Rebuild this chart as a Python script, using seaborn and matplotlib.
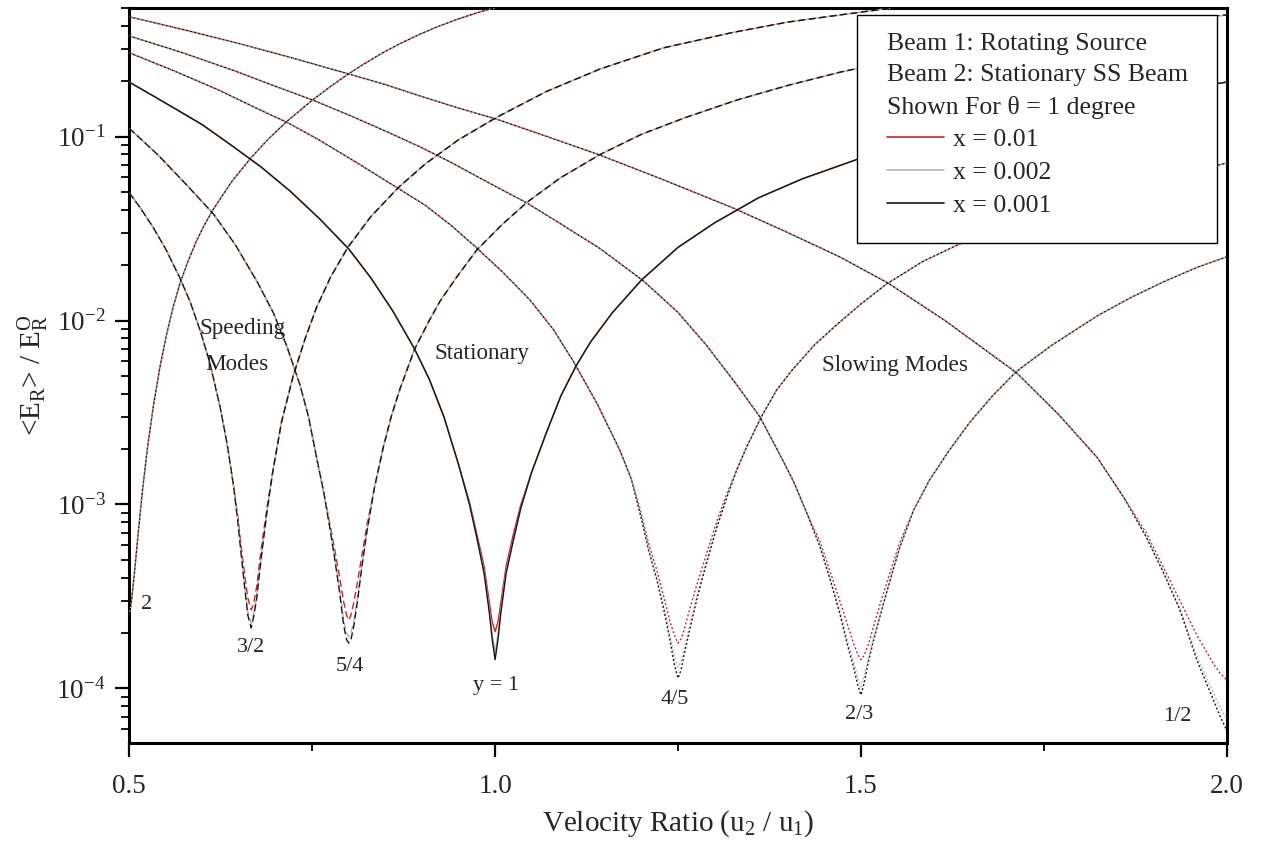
import matplotlib
matplotlib.use("Agg")
import matplotlib.pyplot as plt
from matplotlib.lines import Line2D
from matplotlib.patches import Rectangle
from matplotlib.ticker import LogLocator, NullFormatter, FixedLocator
import seaborn as sns

# ---------------- data ----------------
# u = velocity ratio u2/u1 ; values = <E_R>/E_R^O for x = 0.001 (black), 0.002 (gray), 0.01 (red)

# mode "2" (dotted) : dip at u = 0.5 (only rising branch visible)
M2_U = [0.500, 0.503, 0.507, 0.512, 0.518, 0.525, 0.533, 0.542, 0.551, 0.560,
        0.569, 0.580, 0.592, 0.603, 0.615, 0.640, 0.667, 0.690, 0.715, 0.751,
        0.775, 0.798, 0.820, 0.847, 0.870, 0.897, 0.920, 0.949, 0.975, 1.003]
M2_E = [2.5e-4, 2.98e-4, 4.23e-4, 6.86e-4, 1.19e-3, 2.06e-3, 3.45e-3, 5.62e-3, 8.42e-3, 0.01186,
        0.0158, 0.0209, 0.0272, 0.0333, 0.0404, 0.057, 0.0773, 0.097, 0.1208, 0.1589,
        0.1875, 0.2174, 0.2477, 0.2868, 0.3205, 0.3606, 0.3945, 0.436, 0.4713, 0.5075]

# mode "3/2" (dashed) : dip at u = 2/3
M32_U = [0.500, 0.515, 0.532, 0.550, 0.569, 0.583, 0.597, 0.610, 0.624, 0.634,
         0.642, 0.648, 0.653, 0.658, 0.662, 0.6667, 0.670, 0.674, 0.680, 0.688,
         0.696, 0.708, 0.724, 0.740, 0.756, 0.775, 0.799, 0.830, 0.868, 0.904,
         0.950, 1.003, 1.070, 1.143, 1.230, 1.325, 1.400, 1.471, 1.540]
M32_X001 = [0.0495, 0.041, 0.0324, 0.0244, 0.0171, 0.0127, 8.8e-3, 5.9e-3, 3.4e-3, 2.1e-3,
            1.30e-3, 8.3e-4, 5.3e-4, 3.45e-4, 2.5e-4, 2.13e-4, 2.45e-4, 3.05e-4, 5.0e-4, 9.0e-4,
            1.5e-3, 2.8e-3, 5.0e-3, 7.9e-3, 0.0118, 0.0172, 0.0251, 0.0367, 0.0530, 0.0708,
            0.0962, 0.128, 0.176, 0.233, 0.304, 0.369, 0.420, 0.459, 0.500]
M32_X002 = [0.0495, 0.041, 0.0324, 0.0244, 0.0171, 0.0127, 8.8e-3, 5.9e-3, 3.4e-3, 2.1e-3,
            1.30e-3, 8.3e-4, 5.4e-4, 3.55e-4, 2.6e-4, 2.26e-4, 2.55e-4, 3.15e-4, 5.1e-4, 9.0e-4,
            1.5e-3, 2.8e-3, 5.0e-3, 7.9e-3, 0.0118, 0.0172, 0.0251, 0.0367, 0.0530, 0.0708,
            0.0962, 0.128, 0.176, 0.233, 0.304, 0.369, 0.420, 0.459, 0.500]
M32_X01 = [0.0495, 0.041, 0.0324, 0.0244, 0.0171, 0.0127, 8.8e-3, 5.9e-3, 3.4e-3, 2.1e-3,
           1.30e-3, 8.8e-4, 5.9e-4, 4.05e-4, 3.1e-4, 2.67e-4, 2.9e-4, 3.55e-4, 5.6e-4, 9.5e-4,
           1.5e-3, 2.8e-3, 5.0e-3, 7.9e-3, 0.0118, 0.0172, 0.0251, 0.0367, 0.0530, 0.0708,
           0.0962, 0.128, 0.176, 0.233, 0.304, 0.369, 0.420, 0.459, 0.500]

# mode "5/4" (dashed) : dip at u = 0.8
M54_U = [0.50, 0.54, 0.58, 0.615, 0.645, 0.675, 0.697, 0.715, 0.733, 0.745,
         0.756, 0.766, 0.774, 0.781, 0.788, 0.793, 0.797, 0.800, 0.803, 0.807,
         0.812, 0.818, 0.8245, 0.835, 0.847, 0.858, 0.870, 0.890, 0.910, 0.925,
         0.950, 0.975, 1.010, 1.044, 1.090, 1.143, 1.200, 1.260, 1.330, 1.400,
         1.471, 1.550, 1.622, 1.690, 1.759, 1.830, 1.895, 1.950, 2.000]
M54_X001 = [0.111, 0.079, 0.0538, 0.0380, 0.0258, 0.0162, 0.0110, 7.3e-3, 4.5e-3, 3.0e-3,
            1.8e-3, 1.15e-3, 7.5e-4, 5.0e-4, 3.2e-4, 2.2e-4, 1.84e-4, 1.76e-4, 1.84e-4, 2.2e-4,
            3.0e-4, 4.6e-4, 7.0e-4, 1.23e-3, 2.03e-3, 3.0e-3, 4.25e-3, 7.0e-3, 1.0e-2, 0.0128,
            0.0178, 0.0242, 0.0334, 0.0441, 0.0600, 0.0798, 0.103, 0.127, 0.158, 0.190,
            0.224, 0.262, 0.297, 0.332, 0.365, 0.394, 0.418, 0.438, 0.459]
M54_X002 = [0.111, 0.079, 0.0538, 0.0380, 0.0258, 0.0162, 0.0110, 7.3e-3, 4.5e-3, 3.0e-3,
            1.8e-3, 1.15e-3, 7.5e-4, 5.1e-4, 3.35e-4, 2.35e-4, 2.0e-4, 1.9e-4, 2.0e-4, 2.35e-4,
            3.1e-4, 4.7e-4, 7.0e-4, 1.23e-3, 2.03e-3, 3.0e-3, 4.25e-3, 7.0e-3, 1.0e-2, 0.0128,
            0.0178, 0.0242, 0.0334, 0.0441, 0.0600, 0.0798, 0.103, 0.127, 0.158, 0.190,
            0.224, 0.262, 0.297, 0.332, 0.365, 0.394, 0.418, 0.438, 0.459]
M54_X01 = [0.111, 0.079, 0.0538, 0.0380, 0.0258, 0.0162, 0.0110, 7.3e-3, 4.5e-3, 3.0e-3,
           1.8e-3, 1.15e-3, 7.9e-4, 5.6e-4, 3.9e-4, 2.95e-4, 2.5e-4, 2.35e-4, 2.5e-4, 2.95e-4,
           3.8e-4, 5.3e-4, 7.6e-4, 1.23e-3, 2.03e-3, 3.0e-3, 4.25e-3, 7.0e-3, 1.0e-2, 0.0128,
           0.0178, 0.0242, 0.0334, 0.0441, 0.0600, 0.0798, 0.103, 0.127, 0.158, 0.190,
           0.224, 0.262, 0.297, 0.332, 0.365, 0.394, 0.418, 0.438, 0.459]

# stationary mode "y = 1" (solid) : dip at u = 1
ST_U = [0.50, 0.53, 0.56, 0.60, 0.64, 0.68, 0.72, 0.76, 0.80, 0.83,
        0.86, 0.89, 0.91, 0.93, 0.95, 0.965, 0.975, 0.985, 0.992, 0.996,
        1.000, 1.004, 1.008, 1.015, 1.025, 1.035, 1.05, 1.07, 1.09, 1.11,
        1.13, 1.16, 1.20, 1.25, 1.30, 1.36, 1.42, 1.50, 1.60, 1.70,
        1.80, 1.90, 2.00]
ST_X001 = [0.198, 0.169, 0.144, 0.116, 0.0895, 0.0685, 0.0505, 0.0358, 0.0245, 0.0171,
           0.0113, 7.0e-3, 4.8e-3, 3.0e-3, 1.65e-3, 1.0e-3, 6.6e-4, 4.2e-4, 2.6e-4, 1.85e-4,
           1.43e-4, 1.85e-4, 2.6e-4, 4.2e-4, 6.4e-4, 9.5e-4, 1.5e-3, 2.45e-3, 3.9e-3, 5.6e-3,
           7.6e-3, 0.0110, 0.0166, 0.0250, 0.0340, 0.0465, 0.0590, 0.0765, 0.0985, 0.123,
           0.148, 0.173, 0.198]
ST_X002 = [0.198, 0.169, 0.144, 0.116, 0.0895, 0.0685, 0.0505, 0.0358, 0.0245, 0.0171,
           0.0113, 7.0e-3, 4.8e-3, 3.0e-3, 1.65e-3, 1.0e-3, 6.6e-4, 4.3e-4, 2.7e-4, 1.98e-4,
           1.56e-4, 1.98e-4, 2.7e-4, 4.3e-4, 6.4e-4, 9.5e-4, 1.5e-3, 2.45e-3, 3.9e-3, 5.6e-3,
           7.6e-3, 0.0110, 0.0166, 0.0250, 0.0340, 0.0465, 0.0590, 0.0765, 0.0985, 0.123,
           0.148, 0.173, 0.198]
ST_X01 = [0.198, 0.169, 0.144, 0.116, 0.0895, 0.0685, 0.0505, 0.0358, 0.0245, 0.0171,
          0.0113, 7.0e-3, 4.8e-3, 3.0e-3, 1.65e-3, 1.03e-3, 6.9e-4, 4.6e-4, 2.95e-4, 2.3e-4,
          2.03e-4, 2.3e-4, 2.95e-4, 4.6e-4, 6.9e-4, 9.9e-4, 1.5e-3, 2.45e-3, 3.9e-3, 5.6e-3,
          7.6e-3, 0.0110, 0.0166, 0.0250, 0.0340, 0.0465, 0.0590, 0.0765, 0.0985, 0.123,
          0.148, 0.173, 0.198]

# mode "4/5" (dotted) : dip at u = 1.25
M45_U = [0.50, 0.56, 0.62, 0.68, 0.715, 0.76, 0.81, 0.868, 0.904, 0.94,
         0.975, 1.01, 1.048, 1.08, 1.107, 1.14, 1.171, 1.186, 1.198, 1.21,
         1.221, 1.231, 1.239, 1.245, 1.25, 1.254, 1.258, 1.266, 1.277, 1.289,
         1.303, 1.317, 1.33, 1.344, 1.364, 1.385, 1.408, 1.437, 1.467, 1.50,
         1.535, 1.585, 1.636, 1.70, 1.759, 1.82, 1.882, 1.94, 2.00]
M45_X001 = [0.286, 0.229, 0.181, 0.139, 0.120, 0.0957, 0.0726, 0.0522, 0.0425, 0.0329,
            0.0248, 0.0184, 0.0129, 8.9e-3, 6.0e-3, 3.5e-3, 1.95e-3, 1.38e-3, 9.0e-4, 5.6e-4,
            3.9e-4, 2.63e-4, 1.83e-4, 1.35e-4, 1.135e-4, 1.25e-4, 1.5e-4, 2.08e-4, 3.2e-4, 4.8e-4,
            7.5e-4, 1.10e-3, 1.53e-3, 2.06e-3, 3.0e-3, 4.2e-3, 5.5e-3, 7.4e-3, 9.5e-3, 0.0123,
            0.0158, 0.0210, 0.0262, 0.0330, 0.0397, 0.0468, 0.0545, 0.0625, 0.0719]
M45_X002 = [0.286, 0.229, 0.181, 0.139, 0.120, 0.0957, 0.0726, 0.0522, 0.0425, 0.0329,
            0.0248, 0.0184, 0.0129, 8.9e-3, 6.0e-3, 3.5e-3, 1.95e-3, 1.38e-3, 9.0e-4, 5.6e-4,
            4.0e-4, 2.75e-4, 1.95e-4, 1.5e-4, 1.3e-4, 1.4e-4, 1.62e-4, 2.2e-4, 3.3e-4, 4.9e-4,
            7.5e-4, 1.10e-3, 1.53e-3, 2.06e-3, 3.0e-3, 4.2e-3, 5.5e-3, 7.4e-3, 9.5e-3, 0.0123,
            0.0158, 0.0210, 0.0262, 0.0330, 0.0397, 0.0468, 0.0545, 0.0625, 0.0719]
M45_X01 = [0.286, 0.229, 0.181, 0.139, 0.120, 0.0957, 0.0726, 0.0522, 0.0425, 0.0329,
           0.0248, 0.0184, 0.0129, 8.9e-3, 6.0e-3, 3.5e-3, 1.95e-3, 1.38e-3, 9.5e-4, 6.1e-4,
           4.4e-4, 3.1e-4, 2.3e-4, 1.95e-4, 1.76e-4, 1.85e-4, 2.05e-4, 2.7e-4, 3.8e-4, 5.4e-4,
           8.1e-4, 1.15e-3, 1.53e-3, 2.06e-3, 3.0e-3, 4.2e-3, 5.5e-3, 7.4e-3, 9.5e-3, 0.0123,
           0.0158, 0.0210, 0.0262, 0.0330, 0.0397, 0.0468, 0.0545, 0.0625, 0.0719]

# mode "2/3" (dotted) : dip at u = 1.5
M23_U = [0.50, 0.57, 0.64, 0.70, 0.751, 0.80, 0.85, 0.897, 0.94, 0.99,
         1.044, 1.09, 1.143, 1.203, 1.25, 1.289, 1.33, 1.362, 1.39, 1.408,
         1.428, 1.444, 1.458, 1.471, 1.482, 1.490, 1.496, 1.500, 1.504, 1.510,
         1.517, 1.526, 1.535, 1.544, 1.553, 1.572, 1.594, 1.62, 1.649, 1.68,
         1.713, 1.76, 1.823, 1.87, 1.913, 1.96, 2.00]
M23_X001 = [0.353, 0.2886, 0.2311, 0.1878, 0.158, 0.1312, 0.1073, 0.0882, 0.0724, 0.0565,
            0.0435, 0.0335, 0.0247, 0.0164, 0.01107, 7.33e-3, 4.49e-3, 2.99e-3, 1.84e-3, 1.33e-3,
            8.6e-4, 5.9e-4, 3.9e-4, 2.56e-4, 1.7e-4, 1.3e-4, 1.03e-4, 9.2e-5, 1.05e-4, 1.38e-4,
            1.8e-4, 2.45e-4, 3.3e-4, 4.4e-4, 5.8e-4, 9.3e-4, 1.36e-3, 1.95e-3, 2.8e-3, 3.9e-3,
            5.3e-3, 7.3e-3, 0.0106, 0.0134, 0.0162, 0.0195, 0.0222]
M23_X002 = [0.353, 0.2886, 0.2311, 0.1878, 0.158, 0.1312, 0.1073, 0.0882, 0.0724, 0.0565,
            0.0435, 0.0335, 0.0247, 0.0164, 0.01107, 7.33e-3, 4.49e-3, 2.99e-3, 1.84e-3, 1.33e-3,
            8.6e-4, 5.9e-4, 3.9e-4, 2.65e-4, 1.8e-4, 1.4e-4, 1.13e-4, 1.02e-4, 1.15e-4, 1.45e-4,
            1.87e-4, 2.5e-4, 3.3e-4, 4.4e-4, 5.8e-4, 9.3e-4, 1.36e-3, 1.95e-3, 2.8e-3, 3.9e-3,
            5.3e-3, 7.3e-3, 0.0106, 0.0134, 0.0162, 0.0195, 0.0222]
M23_X01 = [0.353, 0.2886, 0.2311, 0.1878, 0.158, 0.1312, 0.1073, 0.0882, 0.0724, 0.0565,
           0.0435, 0.0335, 0.0247, 0.0164, 0.01107, 7.33e-3, 4.49e-3, 2.99e-3, 1.84e-3, 1.33e-3,
           8.6e-4, 6.3e-4, 4.3e-4, 3.0e-4, 2.2e-4, 1.75e-4, 1.52e-4, 1.43e-4, 1.5e-4, 1.72e-4,
           2.15e-4, 2.85e-4, 3.7e-4, 4.8e-4, 6.2e-4, 9.3e-4, 1.36e-3, 1.95e-3, 2.8e-3, 3.9e-3,
           5.3e-3, 7.3e-3, 0.0106, 0.0134, 0.0162, 0.0195, 0.0222]

# mode "1/2" (dotted) : dip at u = 2
M12_U = [0.50, 0.58, 0.65, 0.72, 0.797, 0.85, 0.897, 0.95, 1.003, 1.07,
         1.143, 1.23, 1.325, 1.40, 1.471, 1.537, 1.615, 1.67, 1.713, 1.77,
         1.823, 1.86, 1.89, 1.913, 1.936, 1.959, 1.98, 1.99, 2.00]
M12_X001 = [0.449, 0.377, 0.321, 0.270, 0.221, 0.192, 0.1667, 0.1431, 0.1242, 0.1005,
            0.0795, 0.0583, 0.041, 0.0301, 0.0222, 0.016, 0.0100, 6.92e-3, 5.19e-3, 3.09e-3,
            1.8e-3, 1.08e-3, 6.65e-4, 4.3e-4, 2.67e-4, 1.43e-4, 9.0e-5, 7.2e-5, 5.9e-5]
M12_X002 = [0.449, 0.377, 0.321, 0.270, 0.221, 0.192, 0.1667, 0.1431, 0.1242, 0.1005,
            0.0795, 0.0583, 0.041, 0.0301, 0.0222, 0.016, 0.0100, 6.92e-3, 5.19e-3, 3.09e-3,
            1.8e-3, 1.08e-3, 6.65e-4, 4.35e-4, 2.72e-4, 1.5e-4, 9.8e-5, 8.0e-5, 6.8e-5]
M12_X01 = [0.449, 0.377, 0.321, 0.270, 0.221, 0.192, 0.1667, 0.1431, 0.1242, 0.1005,
           0.0795, 0.0583, 0.041, 0.0301, 0.0222, 0.016, 0.0100, 6.92e-3, 5.19e-3, 3.09e-3,
           1.8e-3, 1.08e-3, 7.0e-4, 4.6e-4, 3.0e-4, 1.95e-4, 1.4e-4, 1.22e-4, 1.11e-4]

SERIES_LABELS = ["x = 0.01", "x = 0.002", "x = 0.001"]
HEADER = ["Beam 1: Rotating Source", "Beam 2: Stationary SS Beam", "Shown For \u03b8 = 1 degree"]

DIP_LABELS = ["2", "3/2", "5/4", "y = 1", "4/5", "2/3", "1/2"]
DIP_LABEL_U = [0.523, 0.667, 0.801, 1.001, 1.246, 1.498, 1.933]
DIP_LABEL_E = [2.84e-4, 1.67e-4, 1.31e-4, 1.03e-4, 8.65e-5, 7.17e-5, 7.02e-5]

# ---------------- styling ----------------
sns.set_style("ticks")
plt.rcParams['font.family'] = ['Liberation Serif', 'DejaVu Serif']
plt.rcParams['mathtext.fontset'] = 'custom'
plt.rcParams['mathtext.rm'] = 'Liberation Serif'
plt.rcParams['mathtext.it'] = 'Liberation Serif:italic'
plt.rcParams['mathtext.bf'] = 'Liberation Serif:bold'
plt.rcParams['axes.unicode_minus'] = False

RED, GRAY, BLACK = "#d02424", "#b4b4b4", "#151515"
LW = 1.0
DOT = (1.4, 1.6)
DASH = (5.0, 2.6)

fig = plt.figure(figsize=(12.62, 8.44), dpi=100)
ax = fig.add_axes([129.3 / 1262, 1 - 743 / 844, (1226.7 - 129.3) / 1262, (743 - 8) / 844])
ax.set_yscale("log")


def draw(u, vals, color, ls, z):
    n = min(len(u), len(vals))
    sns.lineplot(x=u[:n], y=vals[:n], ax=ax, color=color, linestyle=ls, linewidth=LW,
                 sort=False, estimator=None, errorbar=None, legend=False, zorder=z)


def patterned(pat, shift):
    per = pat[0] + pat[1]
    return (per * shift, pat)


# (u, red, gray, black, pattern)
modes = [
    (M2_U, M2_E, M2_E, M2_E, DOT),
    (M32_U, M32_X01, M32_X002, M32_X001, DASH),
    (M54_U, M54_X01, M54_X002, M54_X001, DASH),
    (M45_U, M45_X01, M45_X002, M45_X001, DOT),
    (M23_U, M23_X01, M23_X002, M23_X001, DOT),
    (M12_U, M12_X01, M12_X002, M12_X001, DOT),
]
for u, r, g, b, pat in modes:
    draw(u, r, RED, patterned(pat, 0.5), 2)
    draw(u, g, GRAY, patterned(pat, 0.25 if pat is DOT else 0.5), 3)
    draw(u, b, BLACK, patterned(pat, 0.0), 4)

# stationary: solid
draw(ST_U, ST_X01, RED, "-", 2)
draw(ST_U, ST_X002, GRAY, "-", 3)
draw(ST_U, ST_X001, BLACK, "-", 4)

# ---------------- axes ----------------
ax.set_xlim(0.5, 2.0)
ax.set_ylim(5.04e-5, 0.501)
ax.xaxis.set_major_locator(FixedLocator([0.5, 1.0, 1.5, 2.0]))
ax.xaxis.set_minor_locator(FixedLocator([0.75, 1.25, 1.75]))
ax.set_xticklabels(["0.5", "1.0", "1.5", "2.0"])
ax.yaxis.set_major_locator(LogLocator(base=10, numticks=10))
ax.yaxis.set_minor_locator(LogLocator(base=10, subs=[2, 3, 4, 5, 6, 7, 8, 9], numticks=20))
ax.yaxis.set_minor_formatter(NullFormatter())

for s in ax.spines.values():
    s.set_linewidth(2.2)
    s.set_color("black")
    s.set_visible(True)
ax.tick_params(which="both", direction="out", top=False, right=False, color="black")
ax.tick_params(which="major", length=10, width=1.6, labelsize=19.5)
ax.tick_params(axis="x", which="major", pad=12)
ax.tick_params(axis="y", which="major", pad=7)
ax.tick_params(which="minor", length=6, width=1.3)

ax.set_xlabel("Velocity Ratio (u$_2$ / u$_1$)", fontsize=21, labelpad=7)
ax.set_ylabel("<E$_\\mathregular{R}$> / E$_\\mathregular{R}^\\mathregular{O}$", fontsize=21, labelpad=4)

# ---------------- annotations ----------------
for lab, uu, ee in zip(DIP_LABELS, DIP_LABEL_U, DIP_LABEL_E):
    ax.text(uu, ee, lab, fontsize=16, ha="center", va="center", zorder=6)
ax.text(0.655, 9.1e-3, "Speeding", fontsize=16.7, ha="center", va="center")
ax.text(0.647, 5.74e-3, "Modes", fontsize=16.7, ha="center", va="center")
ax.text(0.982, 6.66e-3, "Stationary", fontsize=16.7, ha="center", va="center")
ax.text(1.546, 5.66e-3, "Slowing Modes", fontsize=16.7, ha="center", va="center")

# ---------------- legend ----------------
frame = Rectangle((0.66311, 0.68027), 0.32805, 0.31021, transform=ax.transAxes,
                  facecolor="white", edgecolor="black", linewidth=1.0, zorder=9)
ax.add_patch(frame)
handles = [Line2D([], [], color=c, lw=1.2) for c in (RED, GRAY, BLACK)]
leg = ax.legend(handles, SERIES_LABELS, title="\n".join(HEADER), loc="upper left",
                bbox_to_anchor=(0.69045, 0.9665), borderaxespad=0.0, borderpad=0.0,
                frameon=False, fontsize=18.5, title_fontsize=18.5,
                alignment="left", handlelength=2.2, handletextpad=0.35, labelspacing=0.38)
leg.get_title().set_linespacing(1.54)
leg.set_zorder(10)

fig.savefig("out.png", dpi=100)
